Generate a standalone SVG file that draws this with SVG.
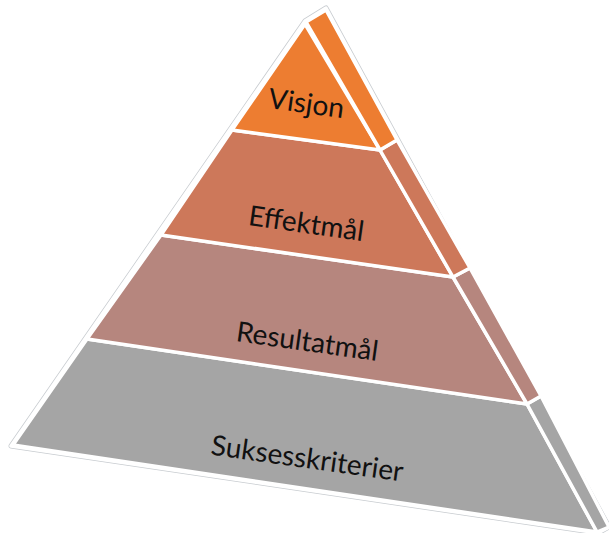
<svg xmlns="http://www.w3.org/2000/svg" width="609" height="533" viewBox="0 0 609 533">
<style>
.f{stroke:#fff;stroke-width:3.5;stroke-linejoin:round}
.t{font-family:Lato,"Open Sans","Liberation Sans",sans-serif;font-size:28px;fill:#111;text-anchor:middle}
</style>
<rect width="609" height="533" fill="#fff"/>
<polygon points="305,21 326,8 609,527 598,533 11,446" fill="none" stroke="#c8ccd0" stroke-width="5" stroke-linejoin="round"/>
<polygon points="305,21 326,8 609,527 598,533 11,446" fill="#fff" stroke="#fff" stroke-width="3.5" stroke-linejoin="round"/>
<g id="suksesskriterier">
<polygon class="f" fill="#A5A5A5" points="87,339 527,404 597,532 13,445"/>
<polygon class="f" fill="#A5A5A5" points="527,404 541,396 609,527 597,532"/>
<text class="t" transform="translate(306,468) rotate(8)">Suksesskriterier</text>
</g>
<g id="resultatmal">
<polygon class="f" fill="#B6867E" points="161,235 453,277 527,404 87,339"/>
<polygon class="f" fill="#B6867E" points="453,277 470,268 541,396 527,404"/>
<text class="t" transform="translate(306,351) rotate(8)">Resultatmål</text>
</g>
<g id="effektmal">
<polygon class="f" fill="#CD785A" points="232,130 380,150 453,277 161,235"/>
<polygon class="f" fill="#CD785A" points="380,150 397,140 470,268 453,277"/>
<text class="t" transform="translate(305,233) rotate(8)">Effektmål</text>
</g>
<g id="visjon">
<polygon class="f" fill="#ED7D31" points="305,24 380,150 232,130"/>
<polygon class="f" fill="#ED7D31" points="306,22 326,10 397,140 380,150"/>
<text class="t" transform="translate(305,113) rotate(8)">Visjon</text>
</g>
<g id="connectors"/>
</svg>
